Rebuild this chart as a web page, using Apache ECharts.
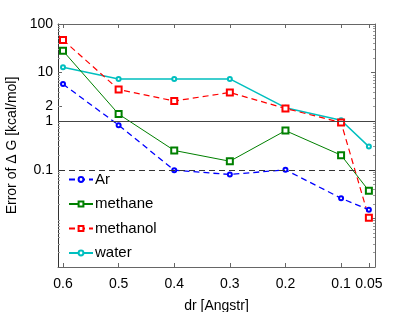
<!DOCTYPE html>
<html><head><meta charset="utf-8">
<script src="https://cdn.jsdelivr.net/npm/echarts@6/dist/echarts.min.js"></script>
<style>html,body{margin:0;padding:0;background:#fff}#c{width:415px;height:312px}</style>
</head><body><div id="c"></div>
<script>
var dr = [0.6, 0.5, 0.4, 0.3, 0.2, 0.1, 0.05];
var xTicks = [0.6, 0.5, 0.4, 0.3, 0.2, 0.1, 0.05];
var yTicks = [0.1, 1, 2, 10, 100];
var ar = [5.8, 0.83, 0.098, 0.08, 0.10, 0.026, 0.015];
var methane = [28, 1.4, 0.25, 0.15, 0.64, 0.20, 0.037];
var methanol = [47, 4.5, 2.6, 3.9, 1.83, 0.94, 0.0103];
var water = [12.9, 7.4, 7.4, 7.4, 1.9, 1.05, 0.30];
var refLines = [1, 0.1];

function pairs(v){ return dr.map(function(x,i){ return [x, v[i]]; }); }
var font = 'Liberation Sans, Arial, sans-serif';
var chart = echarts.init(document.getElementById('c'), null, {renderer:'canvas'});
var axisCol = '#666';
chart.setOption({
  animation:false,
  backgroundColor:'#fff',
  grid:{left:58, right:40, top:24, bottom:45, outerBoundsMode:'none', containLabel:false},
  legend:{
    orient:'vertical', left:63, top:167, itemWidth:24, itemHeight:6, itemGap:9.5,
    textStyle:{fontFamily:font, fontSize:15, color:'#000', padding:[0,0,0,-3]},
    data:['Ar','methane','methanol','water']
  },
  xAxis:[{
    type:'value', inverse:true, min:0.039, max:0.609,
    name:'dr [Angstr]', nameLocation:'middle', nameGap:32,
    nameTextStyle:{fontFamily:font, fontSize:14, color:'#000'},
    axisLine:{lineStyle:{color:axisCol}},
    axisTick:{inside:true, length:4, customValues:xTicks, lineStyle:{color:axisCol}},
    axisLabel:{customValues:xTicks, fontFamily:font, fontSize:14, color:'#000', margin:10,
      formatter:function(v){return String(v);}},
    splitLine:{show:false}
  },{
    type:'value', inverse:true, min:0.039, max:0.609, position:'top',
    axisLine:{lineStyle:{color:axisCol}},
    axisTick:{inside:true, length:4, customValues:xTicks, lineStyle:{color:axisCol}},
    axisLabel:{show:false}, splitLine:{show:false}
  }],
  yAxis:[{
    type:'log', logBase:10, min:0.001, max:100,
    name:'Error of \u0394 G [kcal/mol]', nameLocation:'middle', nameGap:30,
    nameTextStyle:{fontFamily:font, fontSize:14, color:'#000'},
    axisLine:{show:true, lineStyle:{color:'#333'}},
    axisTick:{inside:true, length:4, customValues:yTicks, lineStyle:{color:axisCol}},
    minorTick:{show:true, splitNumber:9, length:2, lineStyle:{color:'#999'}},
    axisLabel:{customValues:yTicks, fontFamily:font, fontSize:14, color:'#000', margin:5,
      formatter:function(v){return String(v);}},
    splitLine:{show:false}
  },{
    type:'log', logBase:10, min:0.001, max:100, position:'right',
    axisLine:{show:true, lineStyle:{color:axisCol}},
    axisTick:{inside:true, length:4, lineStyle:{color:axisCol}},
    minorTick:{show:true, splitNumber:9, length:2, lineStyle:{color:'#999'}},
    axisLabel:{show:false}, splitLine:{show:false}
  }],
  series:[
    {name:'water', type:'line', data:pairs(water), color:'#00bfbf', z:2,
     symbol:'emptyCircle', symbolSize:4, lineStyle:{width:1.5, color:'#00bfbf'}, itemStyle:{color:'#00bfbf'}},
    {name:'methanol', type:'line', data:pairs(methanol), color:'#ff0000', z:3,
     symbol:'emptyRect', symbolSize:6, lineStyle:{width:1.2, type:[6,4], color:'#ff0000'}, itemStyle:{color:'#ff0000'}},
    {name:'methane', type:'line', data:pairs(methane), color:'#008000', z:3,
     symbol:'emptyRect', symbolSize:6, lineStyle:{width:1, color:'#008000'}, itemStyle:{color:'#008000'}},
    {name:'Ar', type:'line', data:pairs(ar), color:'#0000ff', z:4,
     symbol:'emptyCircle', symbolSize:4, lineStyle:{width:1.3, type:[6,4], color:'#0000ff'}, itemStyle:{color:'#0000ff'},
     markLine:{silent:true, symbol:['none','none'], label:{show:false},
       data:[{yAxis:refLines[0], lineStyle:{color:'#444', width:1, type:'solid'}},
             {yAxis:refLines[1], lineStyle:{color:'#333', width:1, type:[6,4]}}]}}
  ]
});
</script></body></html>
